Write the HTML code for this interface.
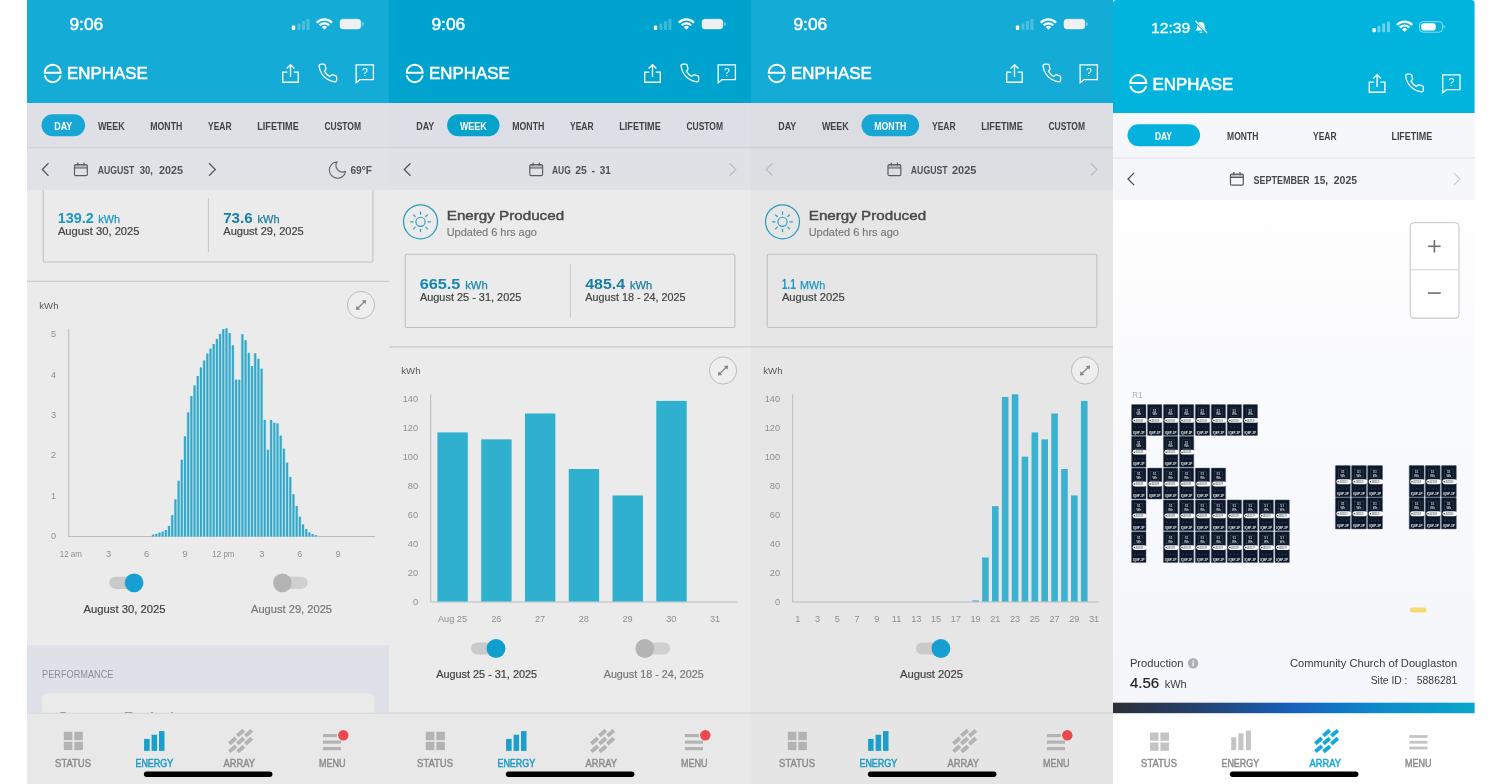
<!DOCTYPE html>
<html><head><meta charset="utf-8"><title>Enphase</title>
<style>html,body{margin:0;padding:0;background:#fff;}svg{display:block;opacity:0.999;}</style></head>
<body>
<svg width="1500" height="784" viewBox="0 0 1500 784" font-family='"Liberation Sans", sans-serif'>
<defs><linearGradient id="gbar" x1="0" x2="1" y1="0" y2="0"><stop offset="0" stop-color="#2c2f36"/><stop offset="0.22" stop-color="#24406b"/><stop offset="0.5" stop-color="#1661bd"/><stop offset="0.75" stop-color="#0d8ccb"/><stop offset="1" stop-color="#08a7c9"/></linearGradient><linearGradient id="p4bg" x1="0" x2="0" y1="0" y2="1"><stop offset="0" stop-color="#fefefe"/><stop offset="0.55" stop-color="#f8f9fc"/><stop offset="1" stop-color="#f5f6fb"/></linearGradient><clipPath id="c1"><rect x="27" y="0" width="362" height="784"/></clipPath><clipPath id="c2"><rect x="389" y="0" width="362" height="784"/></clipPath><clipPath id="c3"><rect x="751" y="0" width="362" height="784"/></clipPath><filter id="blur1"><feGaussianBlur stdDeviation="0.6"/></filter></defs>
<rect x="0.00" y="0.00" width="1500.00" height="784.00" fill="#fff"/>
<g clip-path="url(#c1)">
<rect x="27.00" y="0.00" width="362.00" height="103.00" fill="#14abd6"/>
<rect x="27.00" y="103.00" width="362.00" height="45.00" fill="#dfe0e6"/>
<rect x="27.00" y="148.00" width="362.00" height="42.00" fill="#e1e2e8"/>
<line x1="27.00" y1="147.80" x2="389.00" y2="147.80" stroke="#cdced4" stroke-width="1.0" />
<rect x="27.00" y="190.00" width="362.00" height="523.00" fill="#ebebeb"/>
<text x="69.40" y="30.00" font-size="15.8" fill="#fff" textLength="33.90" lengthAdjust="spacingAndGlyphs" stroke="#fff" stroke-width="0.4">9:06</text>
<rect x="291.90" y="25.40" width="3.30" height="4.70" fill="#fff" rx="0.8"/>
<rect x="297.40" y="23.40" width="3.10" height="6.70" fill="#fff" rx="0.8" opacity="0.24"/>
<rect x="301.90" y="21.00" width="3.10" height="9.10" fill="#fff" rx="0.8" opacity="0.24"/>
<rect x="306.40" y="18.90" width="3.10" height="11.20" fill="#fff" rx="0.8" opacity="0.24"/>
<g transform="translate(324.40,29.80) scale(1.0)" fill="none" stroke="#fff" stroke-linecap="butt"><path d="M-7.61,-7.09 A10.4,10.4 0 0 1 7.61,-7.09" stroke-width="2.3"/><path d="M-4.75,-4.43 A6.5,6.5 0 0 1 4.75,-4.43" stroke-width="2.2"/><path d="M-2.6,-2.7 A3.7,3.7 0 0 1 2.6,-2.7 L0,0 Z" fill="#fff" stroke="none"/></g>
<rect x="340.00" y="19.20" width="20.80" height="9.70" fill="#f0f0f0" rx="3.0" stroke="#fff" stroke-width="0.8" stroke-opacity="0.6"/>
<path d="M362.40,22.0 a2.1,2.1 0 0 1 0,4.0 Z" fill="#fff" opacity="0.55"/>
<path d="M44.70,72.70 A8.0,8.0 0 0 1 60.70,72.70 L43.80,72.70" fill="none" stroke="#fff" stroke-width="2.0" stroke-linecap="butt"/>
<path d="M44.80,75.45 A8.0,8.0 0 0 0 60.60,75.45" fill="none" stroke="#fff" stroke-width="2.0"/>
<text x="67.00" y="79.30" font-size="16.8" fill="#fff" textLength="80.70" lengthAdjust="spacingAndGlyphs" stroke="#fff" stroke-width="0.55">ENPHASE</text>
<g transform="translate(281.70,63.70)" fill="none" stroke="#fff" stroke-width="1.35"><path d="M5.6,8.4 H1 V18.5 H16.6 V8.4 H12"/><path d="M8.8,13.2 V1.2 M4.9,4.8 L8.8,0.9 L12.7,4.8"/></g>
<g transform="translate(317.20,62.40) scale(0.885)" fill="none" stroke="#fff" stroke-width="1.45" stroke-linejoin="round"><path d="M22 16.92v3a2 2 0 0 1-2.18 2 19.79 19.79 0 0 1-8.63-3.07 19.5 19.5 0 0 1-6-6 19.79 19.79 0 0 1-3.07-8.67A2 2 0 0 1 4.11 2h3a2 2 0 0 1 2 1.72 12.84 12.84 0 0 0 .7 2.81 2 2 0 0 1-.45 2.11L8.09 9.91a16 16 0 0 0 6 6l1.27-1.27a2 2 0 0 1 2.11-.45 12.84 12.84 0 0 0 2.81.7A2 2 0 0 1 22 16.92z"/></g>
<g transform="translate(355.40,64.10)"><path d="M0.7,0.7 H18 V15.6 H4.6 L0.8,18.6 Z" fill="none" stroke="#fff" stroke-width="1.3" stroke-linejoin="miter"/>
<text x="9.5" y="12.3" font-size="10.5" fill="#fff" text-anchor="middle">?</text></g>
<rect x="41.50" y="114.20" width="43.60" height="22.10" fill="#17a7d4" rx="11.05"/>
<text x="54.30" y="129.70" font-size="10.6" fill="#fff" font-weight="bold" textLength="18.00" lengthAdjust="spacingAndGlyphs">DAY</text>
<text x="97.90" y="129.70" font-size="10.6" fill="#3f4347" font-weight="bold" textLength="26.80" lengthAdjust="spacingAndGlyphs">WEEK</text>
<text x="150.30" y="129.70" font-size="10.6" fill="#3f4347" font-weight="bold" textLength="32.00" lengthAdjust="spacingAndGlyphs">MONTH</text>
<text x="208.00" y="129.70" font-size="10.6" fill="#3f4347" font-weight="bold" textLength="23.60" lengthAdjust="spacingAndGlyphs">YEAR</text>
<text x="257.30" y="129.70" font-size="10.6" fill="#3f4347" font-weight="bold" textLength="41.40" lengthAdjust="spacingAndGlyphs">LIFETIME</text>
<text x="324.40" y="129.70" font-size="10.6" fill="#3f4347" font-weight="bold" textLength="36.60" lengthAdjust="spacingAndGlyphs">CUSTOM</text>
<path d="M48.50,163.30 L42.30,169.50 L48.50,175.70" fill="none" stroke="#55595e" stroke-width="1.3"/>
<g transform="translate(73.90,162.60)" fill="none" stroke="#5a5e63" stroke-width="1.2"><rect x="0.6" y="2.1" width="12.8" height="11" rx="1.2"/><rect x="0.6" y="2.1" width="12.8" height="3.2" fill="#5a5e63" fill-opacity="0.3" stroke="none"/><path d="M0.6,5.4 H13.4 M3.9,0 V3.2 M10.1,0 V3.2"/></g>
<text x="97.70" y="174.40" font-size="10.9" fill="#4d5156" font-weight="bold" textLength="36.60" lengthAdjust="spacingAndGlyphs">AUGUST</text>
<text x="139.70" y="174.40" font-size="10.9" fill="#4d5156" font-weight="bold" textLength="13.30" lengthAdjust="spacingAndGlyphs">30,</text>
<text x="159.00" y="174.40" font-size="10.9" fill="#4d5156" font-weight="bold" textLength="24.00" lengthAdjust="spacingAndGlyphs">2025</text>
<path d="M209.10,163.30 L215.30,169.50 L209.10,175.70" fill="none" stroke="#55595e" stroke-width="1.3"/>
<path d="M337.10,161.80 A8.2,8.2 0 1 0 345.60,171.30 A6.6,6.6 0 0 1 337.10,161.80 Z" fill="none" stroke="#63676c" stroke-width="1.1" stroke-linejoin="round"/>
<text x="350.40" y="173.70" font-size="10.6" fill="#4d5156" font-weight="bold" textLength="21.60" lengthAdjust="spacingAndGlyphs">69°F</text>
<g>
<rect x="43.20" y="188.70" width="329.70" height="73.30" fill="none" rx="1.8" stroke="#bfc2c5" stroke-width="1.1"/>
<text x="57.70" y="223.20" font-size="14.3" fill="#1c96c3" font-weight="bold" textLength="36.00" lengthAdjust="spacingAndGlyphs">139.2</text>
<text x="98.30" y="223.20" font-size="11.2" fill="#1c96c3" textLength="21.70" lengthAdjust="spacingAndGlyphs" stroke="#1c96c3" stroke-width="0.25">kWh</text>
<text x="57.90" y="235.10" font-size="10.4" fill="#444444" textLength="81.70" lengthAdjust="spacingAndGlyphs" stroke="#444444" stroke-width="0.2">August 30, 2025</text>
<line x1="208.40" y1="198.10" x2="208.40" y2="252.20" stroke="#c4c7ca" stroke-width="1.0" />
<text x="223.20" y="223.20" font-size="14.3" fill="#1a7f9e" font-weight="bold" textLength="29.40" lengthAdjust="spacingAndGlyphs">73.6</text>
<text x="257.60" y="223.20" font-size="11.2" fill="#1a7f9e" textLength="22.00" lengthAdjust="spacingAndGlyphs" stroke="#1a7f9e" stroke-width="0.25">kWh</text>
<text x="223.30" y="235.10" font-size="10.4" fill="#444444" textLength="80.40" lengthAdjust="spacingAndGlyphs" stroke="#444444" stroke-width="0.2">August 29, 2025</text>
<line x1="27.00" y1="281.30" x2="389.00" y2="281.30" stroke="#cbcdd1" stroke-width="1.3" />
<text x="39.30" y="308.80" font-size="9.6" fill="#55595d" textLength="19.20" lengthAdjust="spacingAndGlyphs">kWh</text>
<circle cx="361.00" cy="305.00" r="13.60" fill="#eeeeee" stroke="#bcbcbc" stroke-width="1.0"/>
<line x1="358.00" y1="308.00" x2="364.00" y2="302.00" stroke="#85888d" stroke-width="1.3" />
<path d="M366.10,299.90 l-4.3,0.5 l3.8,3.8 Z M355.90,310.10 l4.3,-0.5 l-3.8,-3.8 Z" fill="#85888d"/>
</g>
<rect x="27.00" y="148.40" width="362.00" height="41.60" fill="#e1e2e8"/>
<path d="M48.50,163.30 L42.30,169.50 L48.50,175.70" fill="none" stroke="#55595e" stroke-width="1.3"/>
<g transform="translate(73.90,162.60)" fill="none" stroke="#5a5e63" stroke-width="1.2"><rect x="0.6" y="2.1" width="12.8" height="11" rx="1.2"/><rect x="0.6" y="2.1" width="12.8" height="3.2" fill="#5a5e63" fill-opacity="0.3" stroke="none"/><path d="M0.6,5.4 H13.4 M3.9,0 V3.2 M10.1,0 V3.2"/></g>
<text x="97.70" y="174.40" font-size="10.9" fill="#4d5156" font-weight="bold" textLength="36.60" lengthAdjust="spacingAndGlyphs">AUGUST</text>
<text x="139.70" y="174.40" font-size="10.9" fill="#4d5156" font-weight="bold" textLength="13.30" lengthAdjust="spacingAndGlyphs">30,</text>
<text x="159.00" y="174.40" font-size="10.9" fill="#4d5156" font-weight="bold" textLength="24.00" lengthAdjust="spacingAndGlyphs">2025</text>
<path d="M209.10,163.30 L215.30,169.50 L209.10,175.70" fill="none" stroke="#55595e" stroke-width="1.3"/>
<path d="M337.10,161.80 A8.2,8.2 0 1 0 345.60,171.30 A6.6,6.6 0 0 1 337.10,161.80 Z" fill="none" stroke="#63676c" stroke-width="1.1" stroke-linejoin="round"/>
<text x="350.40" y="173.70" font-size="10.6" fill="#4d5156" font-weight="bold" textLength="21.60" lengthAdjust="spacingAndGlyphs">69°F</text>
<line x1="68.70" y1="328.80" x2="68.70" y2="536.50" stroke="#b9bcc0" stroke-width="1.0" />
<line x1="68.20" y1="536.50" x2="375.20" y2="536.50" stroke="#b9bcc0" stroke-width="1.0" />
<text x="56.00" y="539.30" font-size="9.2" fill="#8b9095" text-anchor="end">0</text>
<text x="56.00" y="498.85" font-size="9.2" fill="#8b9095" text-anchor="end">1</text>
<text x="56.00" y="458.40" font-size="9.2" fill="#8b9095" text-anchor="end">2</text>
<text x="56.00" y="417.95" font-size="9.2" fill="#8b9095" text-anchor="end">3</text>
<text x="56.00" y="377.50" font-size="9.2" fill="#8b9095" text-anchor="end">4</text>
<text x="56.00" y="337.05" font-size="9.2" fill="#8b9095" text-anchor="end">5</text>
<rect x="151.50" y="534.90" width="3.19" height="1.60" fill="#a3dde9"/>
<rect x="154.69" y="534.10" width="3.19" height="2.40" fill="#a3dde9"/>
<rect x="157.88" y="532.90" width="3.19" height="3.60" fill="#a3dde9"/>
<rect x="161.07" y="531.80" width="3.19" height="4.70" fill="#a3dde9"/>
<rect x="164.26" y="530.30" width="3.19" height="6.20" fill="#a3dde9"/>
<rect x="167.45" y="526.30" width="3.19" height="10.20" fill="#a3dde9"/>
<rect x="170.65" y="515.40" width="3.19" height="21.10" fill="#a3dde9"/>
<rect x="173.84" y="499.60" width="3.19" height="36.90" fill="#a3dde9"/>
<rect x="177.03" y="481.00" width="3.19" height="55.50" fill="#a3dde9"/>
<rect x="180.22" y="460.00" width="3.19" height="76.50" fill="#a3dde9"/>
<rect x="183.41" y="436.50" width="3.19" height="100.00" fill="#a3dde9"/>
<rect x="186.59" y="412.70" width="3.19" height="123.80" fill="#a3dde9"/>
<rect x="189.78" y="396.30" width="3.19" height="140.20" fill="#a3dde9"/>
<rect x="192.97" y="385.70" width="3.19" height="150.80" fill="#a3dde9"/>
<rect x="196.16" y="376.30" width="3.19" height="160.20" fill="#a3dde9"/>
<rect x="199.35" y="367.70" width="3.19" height="168.80" fill="#a3dde9"/>
<rect x="202.54" y="360.80" width="3.19" height="175.70" fill="#a3dde9"/>
<rect x="205.73" y="353.80" width="3.19" height="182.70" fill="#a3dde9"/>
<rect x="208.92" y="348.90" width="3.19" height="187.60" fill="#a3dde9"/>
<rect x="212.11" y="344.30" width="3.19" height="192.20" fill="#a3dde9"/>
<rect x="215.30" y="339.20" width="3.19" height="197.30" fill="#a3dde9"/>
<rect x="218.49" y="334.20" width="3.19" height="202.30" fill="#a3dde9"/>
<rect x="221.68" y="329.40" width="3.19" height="207.10" fill="#a3dde9"/>
<rect x="224.88" y="328.60" width="3.19" height="207.90" fill="#a3dde9"/>
<rect x="228.06" y="333.30" width="3.19" height="203.20" fill="#a3dde9"/>
<rect x="231.25" y="345.50" width="3.19" height="191.00" fill="#a3dde9"/>
<rect x="234.44" y="380.00" width="3.19" height="156.50" fill="#a3dde9"/>
<rect x="237.63" y="380.00" width="3.19" height="156.50" fill="#a3dde9"/>
<rect x="240.82" y="334.50" width="3.19" height="202.00" fill="#a3dde9"/>
<rect x="244.02" y="340.40" width="3.19" height="196.10" fill="#a3dde9"/>
<rect x="247.21" y="353.10" width="3.19" height="183.40" fill="#a3dde9"/>
<rect x="250.40" y="366.30" width="3.19" height="170.20" fill="#a3dde9"/>
<rect x="253.59" y="353.60" width="3.19" height="182.90" fill="#a3dde9"/>
<rect x="256.77" y="359.00" width="3.19" height="177.50" fill="#a3dde9"/>
<rect x="259.96" y="368.90" width="3.19" height="167.60" fill="#a3dde9"/>
<rect x="263.15" y="420.20" width="3.19" height="116.30" fill="#a3dde9"/>
<rect x="266.34" y="450.00" width="3.19" height="86.50" fill="#a3dde9"/>
<rect x="269.53" y="420.20" width="3.19" height="116.30" fill="#a3dde9"/>
<rect x="272.72" y="423.00" width="3.19" height="113.50" fill="#a3dde9"/>
<rect x="275.91" y="423.60" width="3.19" height="112.90" fill="#a3dde9"/>
<rect x="279.10" y="435.90" width="3.19" height="100.60" fill="#a3dde9"/>
<rect x="282.29" y="448.90" width="3.19" height="87.60" fill="#a3dde9"/>
<rect x="285.48" y="462.90" width="3.19" height="73.60" fill="#a3dde9"/>
<rect x="288.67" y="477.30" width="3.19" height="59.20" fill="#a3dde9"/>
<rect x="291.86" y="494.50" width="3.19" height="42.00" fill="#a3dde9"/>
<rect x="295.05" y="506.20" width="3.19" height="30.30" fill="#a3dde9"/>
<rect x="298.25" y="516.90" width="3.19" height="19.60" fill="#a3dde9"/>
<rect x="301.43" y="524.60" width="3.19" height="11.90" fill="#a3dde9"/>
<rect x="304.62" y="529.20" width="3.19" height="7.30" fill="#a3dde9"/>
<rect x="307.81" y="532.60" width="3.19" height="3.90" fill="#a3dde9"/>
<rect x="311.00" y="534.40" width="3.19" height="2.10" fill="#a3dde9"/>
<rect x="314.19" y="535.50" width="3.19" height="1.00" fill="#a3dde9"/>
<rect x="152.15" y="534.60" width="1.90" height="1.90" fill="#38a5c6"/>
<rect x="155.34" y="533.80" width="1.90" height="2.70" fill="#38a5c6"/>
<rect x="158.53" y="532.60" width="1.90" height="3.90" fill="#38a5c6"/>
<rect x="161.72" y="531.50" width="1.90" height="5.00" fill="#38a5c6"/>
<rect x="164.91" y="530.00" width="1.90" height="6.50" fill="#38a5c6"/>
<rect x="168.10" y="526.00" width="1.90" height="10.50" fill="#38a5c6"/>
<rect x="171.29" y="515.10" width="1.90" height="21.40" fill="#38a5c6"/>
<rect x="174.48" y="499.30" width="1.90" height="37.20" fill="#38a5c6"/>
<rect x="177.67" y="480.70" width="1.90" height="55.80" fill="#38a5c6"/>
<rect x="180.86" y="459.70" width="1.90" height="76.80" fill="#38a5c6"/>
<rect x="184.05" y="436.20" width="1.90" height="100.30" fill="#38a5c6"/>
<rect x="187.24" y="412.40" width="1.90" height="124.10" fill="#38a5c6"/>
<rect x="190.43" y="396.00" width="1.90" height="140.50" fill="#38a5c6"/>
<rect x="193.62" y="385.40" width="1.90" height="151.10" fill="#38a5c6"/>
<rect x="196.81" y="376.00" width="1.90" height="160.50" fill="#38a5c6"/>
<rect x="200.00" y="367.40" width="1.90" height="169.10" fill="#38a5c6"/>
<rect x="203.19" y="360.50" width="1.90" height="176.00" fill="#38a5c6"/>
<rect x="206.38" y="353.50" width="1.90" height="183.00" fill="#38a5c6"/>
<rect x="209.57" y="348.60" width="1.90" height="187.90" fill="#38a5c6"/>
<rect x="212.76" y="344.00" width="1.90" height="192.50" fill="#38a5c6"/>
<rect x="215.95" y="338.90" width="1.90" height="197.60" fill="#38a5c6"/>
<rect x="219.14" y="333.90" width="1.90" height="202.60" fill="#38a5c6"/>
<rect x="222.33" y="329.10" width="1.90" height="207.40" fill="#38a5c6"/>
<rect x="225.52" y="328.30" width="1.90" height="208.20" fill="#38a5c6"/>
<rect x="228.71" y="333.00" width="1.90" height="203.50" fill="#38a5c6"/>
<rect x="231.90" y="345.20" width="1.90" height="191.30" fill="#38a5c6"/>
<rect x="235.09" y="379.70" width="1.90" height="156.80" fill="#38a5c6"/>
<rect x="238.28" y="379.70" width="1.90" height="156.80" fill="#38a5c6"/>
<rect x="241.47" y="334.20" width="1.90" height="202.30" fill="#38a5c6"/>
<rect x="244.66" y="340.10" width="1.90" height="196.40" fill="#38a5c6"/>
<rect x="247.85" y="352.80" width="1.90" height="183.70" fill="#38a5c6"/>
<rect x="251.04" y="366.00" width="1.90" height="170.50" fill="#38a5c6"/>
<rect x="254.23" y="353.30" width="1.90" height="183.20" fill="#38a5c6"/>
<rect x="257.42" y="358.70" width="1.90" height="177.80" fill="#38a5c6"/>
<rect x="260.61" y="368.60" width="1.90" height="167.90" fill="#38a5c6"/>
<rect x="263.80" y="419.90" width="1.90" height="116.60" fill="#38a5c6"/>
<rect x="266.99" y="449.70" width="1.90" height="86.80" fill="#38a5c6"/>
<rect x="270.18" y="419.90" width="1.90" height="116.60" fill="#38a5c6"/>
<rect x="273.37" y="422.70" width="1.90" height="113.80" fill="#38a5c6"/>
<rect x="276.56" y="423.30" width="1.90" height="113.20" fill="#38a5c6"/>
<rect x="279.75" y="435.60" width="1.90" height="100.90" fill="#38a5c6"/>
<rect x="282.94" y="448.60" width="1.90" height="87.90" fill="#38a5c6"/>
<rect x="286.13" y="462.60" width="1.90" height="73.90" fill="#38a5c6"/>
<rect x="289.32" y="477.00" width="1.90" height="59.50" fill="#38a5c6"/>
<rect x="292.51" y="494.20" width="1.90" height="42.30" fill="#38a5c6"/>
<rect x="295.70" y="505.90" width="1.90" height="30.60" fill="#38a5c6"/>
<rect x="298.89" y="516.60" width="1.90" height="19.90" fill="#38a5c6"/>
<rect x="302.08" y="524.30" width="1.90" height="12.20" fill="#38a5c6"/>
<rect x="305.27" y="528.90" width="1.90" height="7.60" fill="#38a5c6"/>
<rect x="308.46" y="532.30" width="1.90" height="4.20" fill="#38a5c6"/>
<rect x="311.65" y="534.10" width="1.90" height="2.40" fill="#38a5c6"/>
<rect x="314.84" y="535.20" width="1.90" height="1.30" fill="#38a5c6"/>
<text x="70.80" y="556.50" font-size="9.2" fill="#8b9095" text-anchor="middle" textLength="22.20" lengthAdjust="spacingAndGlyphs">12 am</text>
<text x="108.50" y="556.50" font-size="9.2" fill="#8b9095" text-anchor="middle">3</text>
<text x="146.60" y="556.50" font-size="9.2" fill="#8b9095" text-anchor="middle">6</text>
<text x="185.00" y="556.50" font-size="9.2" fill="#8b9095" text-anchor="middle">9</text>
<text x="223.40" y="556.50" font-size="9.2" fill="#8b9095" text-anchor="middle" textLength="22.20" lengthAdjust="spacingAndGlyphs">12 pm</text>
<text x="261.70" y="556.50" font-size="9.2" fill="#8b9095" text-anchor="middle">3</text>
<text x="299.80" y="556.50" font-size="9.2" fill="#8b9095" text-anchor="middle">6</text>
<text x="338.00" y="556.50" font-size="9.2" fill="#8b9095" text-anchor="middle">9</text>
<rect x="109.20" y="576.70" width="33.50" height="12.20" fill="#c9c9c9" rx="6.1"/>
<circle cx="134.10" cy="582.80" r="9.40" fill="#189fd2"/>
<rect x="273.70" y="576.70" width="34.00" height="12.20" fill="#d0d0d0" rx="6.1"/>
<circle cx="282.40" cy="582.80" r="9.40" fill="#b4b4b4"/>
<text x="83.60" y="612.80" font-size="11.4" fill="#424242" textLength="81.90" lengthAdjust="spacingAndGlyphs" stroke="#424242" stroke-width="0.2">August 30, 2025</text>
<text x="251.00" y="612.80" font-size="11.4" fill="#777777" textLength="81.00" lengthAdjust="spacingAndGlyphs" stroke="#777777" stroke-width="0.2">August 29, 2025</text>
<rect x="27.00" y="645.20" width="362.00" height="68.00" fill="#dfe1e9"/>
<text x="42.10" y="678.00" font-size="10.8" fill="#8a8f97" textLength="71.30" lengthAdjust="spacingAndGlyphs">PERFORMANCE</text>
<rect x="42.10" y="693.60" width="332.00" height="30.00" fill="#ebebeb" rx="6"/>
<rect x="60.30" y="712.20" width="5.40" height="1.00" fill="#6a6a6a"/>
<rect x="125.00" y="712.20" width="7.30" height="1.00" fill="#6a6a6a"/>
<rect x="151.00" y="712.20" width="2.00" height="1.00" fill="#6a6a6a"/>
<rect x="171.00" y="712.20" width="1.60" height="1.00" fill="#6a6a6a"/>
<rect x="27.00" y="713.00" width="362.00" height="71.00" fill="#e8e8e8"/>
<line x1="27.00" y1="713.20" x2="389.00" y2="713.20" stroke="#d4d6db" stroke-width="1.0" />
<rect x="63.80" y="731.80" width="8.60" height="8.30" fill="#b3b3b3"/>
<rect x="63.80" y="741.80" width="8.60" height="8.30" fill="#b3b3b3"/>
<rect x="74.30" y="731.80" width="8.60" height="8.30" fill="#b3b3b3"/>
<rect x="74.30" y="741.80" width="8.60" height="8.30" fill="#b3b3b3"/>
<text x="55.10" y="766.90" font-size="11.0" fill="#8e8e8e" textLength="35.90" lengthAdjust="spacingAndGlyphs" stroke="#8e8e8e" stroke-width="0.5">STATUS</text>
<rect x="144.10" y="738.90" width="5.50" height="12.00" fill="#1b9ec9"/>
<rect x="151.60" y="734.70" width="5.50" height="16.20" fill="#1b9ec9"/>
<rect x="159.00" y="731.10" width="5.50" height="19.80" fill="#1b9ec9"/>
<text x="135.40" y="766.90" font-size="11.0" fill="#1f9bc4" textLength="37.90" lengthAdjust="spacingAndGlyphs" stroke="#1f9bc4" stroke-width="0.5">ENERGY</text>
<rect x="-4.3" y="-1.95" width="8.6" height="3.9" fill="#b3b3b3" transform="translate(240.60,733.00) rotate(-41)"/>
<rect x="-4.3" y="-1.95" width="8.6" height="3.9" fill="#b3b3b3" transform="translate(248.60,733.20) rotate(-41)"/>
<rect x="-4.3" y="-1.95" width="8.6" height="3.9" fill="#b3b3b3" transform="translate(232.60,740.90) rotate(-41)"/>
<rect x="-4.3" y="-1.95" width="8.6" height="3.9" fill="#b3b3b3" transform="translate(240.60,741.00) rotate(-41)"/>
<rect x="-4.3" y="-1.95" width="8.6" height="3.9" fill="#b3b3b3" transform="translate(248.60,741.10) rotate(-41)"/>
<rect x="-4.3" y="-1.95" width="8.6" height="3.9" fill="#b3b3b3" transform="translate(232.70,748.80) rotate(-41)"/>
<rect x="-4.3" y="-1.95" width="8.6" height="3.9" fill="#b3b3b3" transform="translate(240.80,749.00) rotate(-41)"/>
<text x="223.50" y="766.90" font-size="11.0" fill="#8e8e8e" textLength="31.40" lengthAdjust="spacingAndGlyphs" stroke="#8e8e8e" stroke-width="0.5">ARRAY</text>
<rect x="322.90" y="734.00" width="13.90" height="3.20" fill="#b3b3b3"/>
<rect x="322.90" y="740.50" width="18.10" height="3.20" fill="#b3b3b3"/>
<rect x="322.90" y="747.00" width="18.10" height="3.20" fill="#b3b3b3"/>
<circle cx="343.30" cy="735.30" r="5.20" fill="#ea4a4e"/>
<text x="319.00" y="766.90" font-size="11.0" fill="#8e8e8e" textLength="26.60" lengthAdjust="spacingAndGlyphs" stroke="#8e8e8e" stroke-width="0.5">MENU</text>
<rect x="143.90" y="771.60" width="128.50" height="5.30" fill="#000" rx="2.65"/>
</g>
<!--P2-->
<g clip-path="url(#c2)">
<rect x="389.00" y="0.00" width="362.00" height="103.00" fill="#00a3cd"/>
<rect x="389.00" y="103.00" width="362.00" height="45.00" fill="#dedfe6"/>
<rect x="389.00" y="148.00" width="362.00" height="42.00" fill="#e0e1e7"/>
<line x1="389.00" y1="147.80" x2="751.00" y2="147.80" stroke="#cbccd2" stroke-width="1.0" />
<rect x="389.00" y="190.00" width="362.00" height="523.00" fill="#ebebeb"/>
<text x="431.40" y="30.00" font-size="15.8" fill="#fff" textLength="33.90" lengthAdjust="spacingAndGlyphs" stroke="#fff" stroke-width="0.4">9:06</text>
<rect x="653.90" y="25.40" width="3.30" height="4.70" fill="#fff" rx="0.8"/>
<rect x="659.40" y="23.40" width="3.10" height="6.70" fill="#fff" rx="0.8" opacity="0.24"/>
<rect x="663.90" y="21.00" width="3.10" height="9.10" fill="#fff" rx="0.8" opacity="0.24"/>
<rect x="668.40" y="18.90" width="3.10" height="11.20" fill="#fff" rx="0.8" opacity="0.24"/>
<g transform="translate(686.40,29.80) scale(1.0)" fill="none" stroke="#fff" stroke-linecap="butt"><path d="M-7.61,-7.09 A10.4,10.4 0 0 1 7.61,-7.09" stroke-width="2.3"/><path d="M-4.75,-4.43 A6.5,6.5 0 0 1 4.75,-4.43" stroke-width="2.2"/><path d="M-2.6,-2.7 A3.7,3.7 0 0 1 2.6,-2.7 L0,0 Z" fill="#fff" stroke="none"/></g>
<rect x="702.00" y="19.20" width="20.80" height="9.70" fill="#f0f0f0" rx="3.0" stroke="#fff" stroke-width="0.8" stroke-opacity="0.6"/>
<path d="M724.40,22.0 a2.1,2.1 0 0 1 0,4.0 Z" fill="#fff" opacity="0.55"/>
<path d="M406.70,72.70 A8.0,8.0 0 0 1 422.70,72.70 L405.80,72.70" fill="none" stroke="#fff" stroke-width="2.0" stroke-linecap="butt"/>
<path d="M406.80,75.45 A8.0,8.0 0 0 0 422.60,75.45" fill="none" stroke="#fff" stroke-width="2.0"/>
<text x="429.00" y="79.30" font-size="16.8" fill="#fff" textLength="80.70" lengthAdjust="spacingAndGlyphs" stroke="#fff" stroke-width="0.55">ENPHASE</text>
<g transform="translate(643.70,63.70)" fill="none" stroke="#fff" stroke-width="1.35"><path d="M5.6,8.4 H1 V18.5 H16.6 V8.4 H12"/><path d="M8.8,13.2 V1.2 M4.9,4.8 L8.8,0.9 L12.7,4.8"/></g>
<g transform="translate(679.20,62.40) scale(0.885)" fill="none" stroke="#fff" stroke-width="1.45" stroke-linejoin="round"><path d="M22 16.92v3a2 2 0 0 1-2.18 2 19.79 19.79 0 0 1-8.63-3.07 19.5 19.5 0 0 1-6-6 19.79 19.79 0 0 1-3.07-8.67A2 2 0 0 1 4.11 2h3a2 2 0 0 1 2 1.72 12.84 12.84 0 0 0 .7 2.81 2 2 0 0 1-.45 2.11L8.09 9.91a16 16 0 0 0 6 6l1.27-1.27a2 2 0 0 1 2.11-.45 12.84 12.84 0 0 0 2.81.7A2 2 0 0 1 22 16.92z"/></g>
<g transform="translate(717.40,64.10)"><path d="M0.7,0.7 H18 V15.6 H4.6 L0.8,18.6 Z" fill="none" stroke="#fff" stroke-width="1.3" stroke-linejoin="miter"/>
<text x="9.5" y="12.3" font-size="10.5" fill="#fff" text-anchor="middle">?</text></g>
<text x="416.30" y="129.70" font-size="10.6" fill="#3f4347" font-weight="bold" textLength="18.00" lengthAdjust="spacingAndGlyphs">DAY</text>
<rect x="447.10" y="114.20" width="52.40" height="22.10" fill="#05a2cc" rx="11.05"/>
<text x="459.90" y="129.70" font-size="10.6" fill="#fff" font-weight="bold" textLength="26.80" lengthAdjust="spacingAndGlyphs">WEEK</text>
<text x="512.30" y="129.70" font-size="10.6" fill="#3f4347" font-weight="bold" textLength="32.00" lengthAdjust="spacingAndGlyphs">MONTH</text>
<text x="570.00" y="129.70" font-size="10.6" fill="#3f4347" font-weight="bold" textLength="23.60" lengthAdjust="spacingAndGlyphs">YEAR</text>
<text x="619.30" y="129.70" font-size="10.6" fill="#3f4347" font-weight="bold" textLength="41.40" lengthAdjust="spacingAndGlyphs">LIFETIME</text>
<text x="686.40" y="129.70" font-size="10.6" fill="#3f4347" font-weight="bold" textLength="36.60" lengthAdjust="spacingAndGlyphs">CUSTOM</text>
<path d="M410.50,163.30 L404.30,169.50 L410.50,175.70" fill="none" stroke="#55595e" stroke-width="1.3"/>
<g transform="translate(529.20,162.60)" fill="none" stroke="#5a5e63" stroke-width="1.2"><rect x="0.6" y="2.1" width="12.8" height="11" rx="1.2"/><rect x="0.6" y="2.1" width="12.8" height="3.2" fill="#5a5e63" fill-opacity="0.3" stroke="none"/><path d="M0.6,5.4 H13.4 M3.9,0 V3.2 M10.1,0 V3.2"/></g>
<text x="552.00" y="174.40" font-size="10.9" fill="#4d5156" font-weight="bold" textLength="18.80" lengthAdjust="spacingAndGlyphs">AUG</text>
<text x="575.20" y="174.40" font-size="10.9" fill="#4d5156" font-weight="bold" textLength="11.60" lengthAdjust="spacingAndGlyphs">25</text>
<text x="591.60" y="174.40" font-size="10.9" fill="#4d5156" font-weight="bold" textLength="3.60" lengthAdjust="spacingAndGlyphs">-</text>
<text x="599.80" y="174.40" font-size="10.9" fill="#4d5156" font-weight="bold" textLength="11.00" lengthAdjust="spacingAndGlyphs">31</text>
<path d="M729.60,163.30 L735.80,169.50 L729.60,175.70" fill="none" stroke="#bdbfc4" stroke-width="1.3"/>
<circle cx="420.50" cy="221.80" r="17.00" fill="none" stroke="#2b9dbe" stroke-width="1.25"/>
<circle cx="420.50" cy="221.80" r="4.60" fill="none" stroke="#2b9dbe" stroke-width="1.15"/>
<line x1="428.00" y1="221.80" x2="430.40" y2="221.80" stroke="#2b9dbe" stroke-width="1.2" stroke-linecap="round"/>
<line x1="425.80" y1="227.10" x2="427.50" y2="228.80" stroke="#2b9dbe" stroke-width="1.2" stroke-linecap="round"/>
<line x1="420.50" y1="229.30" x2="420.50" y2="231.70" stroke="#2b9dbe" stroke-width="1.2" stroke-linecap="round"/>
<line x1="415.20" y1="227.10" x2="413.50" y2="228.80" stroke="#2b9dbe" stroke-width="1.2" stroke-linecap="round"/>
<line x1="413.00" y1="221.80" x2="410.60" y2="221.80" stroke="#2b9dbe" stroke-width="1.2" stroke-linecap="round"/>
<line x1="415.20" y1="216.50" x2="413.50" y2="214.80" stroke="#2b9dbe" stroke-width="1.2" stroke-linecap="round"/>
<line x1="420.50" y1="214.30" x2="420.50" y2="211.90" stroke="#2b9dbe" stroke-width="1.2" stroke-linecap="round"/>
<line x1="425.80" y1="216.50" x2="427.50" y2="214.80" stroke="#2b9dbe" stroke-width="1.2" stroke-linecap="round"/>
<text x="446.80" y="219.90" font-size="13.5" fill="#4b4b4b" textLength="117.30" lengthAdjust="spacingAndGlyphs" stroke="#4b4b4b" stroke-width="0.45">Energy Produced</text>
<text x="446.70" y="236.00" font-size="11.0" fill="#787878" textLength="90.20" lengthAdjust="spacingAndGlyphs" stroke="#787878" stroke-width="0.15">Updated 6 hrs ago</text>
<rect x="405.20" y="254.20" width="329.70" height="73.30" fill="none" rx="1.8" stroke="#bfc2c5" stroke-width="1.1"/>
<text x="419.70" y="288.70" font-size="14.3" fill="#1787b0" font-weight="bold" textLength="40.70" lengthAdjust="spacingAndGlyphs">665.5</text>
<text x="465.20" y="288.70" font-size="11.2" fill="#1787b0" textLength="22.50" lengthAdjust="spacingAndGlyphs" stroke="#1787b0" stroke-width="0.25">kWh</text>
<text x="419.90" y="300.60" font-size="10.4" fill="#444444" textLength="101.50" lengthAdjust="spacingAndGlyphs" stroke="#444444" stroke-width="0.2">August 25 - 31, 2025</text>
<line x1="570.40" y1="263.60" x2="570.40" y2="317.70" stroke="#c4c7ca" stroke-width="1.0" />
<text x="585.20" y="288.70" font-size="14.3" fill="#1a7f9e" font-weight="bold" textLength="39.90" lengthAdjust="spacingAndGlyphs">485.4</text>
<text x="629.90" y="288.70" font-size="11.2" fill="#1a7f9e" textLength="22.20" lengthAdjust="spacingAndGlyphs" stroke="#1a7f9e" stroke-width="0.25">kWh</text>
<text x="585.30" y="300.60" font-size="10.4" fill="#444444" textLength="100.20" lengthAdjust="spacingAndGlyphs" stroke="#444444" stroke-width="0.2">August 18 - 24, 2025</text>
<line x1="389.00" y1="346.80" x2="751.00" y2="346.80" stroke="#cbcdd1" stroke-width="1.3" />
<text x="401.30" y="374.30" font-size="9.6" fill="#55595d" textLength="19.20" lengthAdjust="spacingAndGlyphs">kWh</text>
<circle cx="723.00" cy="370.50" r="13.60" fill="#eeeeee" stroke="#bcbcbc" stroke-width="1.0"/>
<line x1="720.00" y1="373.50" x2="726.00" y2="367.50" stroke="#85888d" stroke-width="1.3" />
<path d="M728.10,365.40 l-4.3,0.5 l3.8,3.8 Z M717.90,375.60 l4.3,-0.5 l-3.8,-3.8 Z" fill="#85888d"/>
<line x1="430.70" y1="394.30" x2="430.70" y2="602.00" stroke="#b9bcc0" stroke-width="1.0" />
<line x1="430.20" y1="602.00" x2="737.20" y2="602.00" stroke="#b9bcc0" stroke-width="1.0" />
<text x="418.00" y="604.80" font-size="9.2" fill="#8b9095" text-anchor="end">0</text>
<text x="418.00" y="575.89" font-size="9.2" fill="#8b9095" text-anchor="end">20</text>
<text x="418.00" y="546.97" font-size="9.2" fill="#8b9095" text-anchor="end">40</text>
<text x="418.00" y="518.06" font-size="9.2" fill="#8b9095" text-anchor="end">60</text>
<text x="418.00" y="489.14" font-size="9.2" fill="#8b9095" text-anchor="end">80</text>
<text x="418.00" y="460.23" font-size="9.2" fill="#8b9095" text-anchor="end">100</text>
<text x="418.00" y="431.32" font-size="9.2" fill="#8b9095" text-anchor="end">120</text>
<text x="418.00" y="402.40" font-size="9.2" fill="#8b9095" text-anchor="end">140</text>
<rect x="437.40" y="432.42" width="30.40" height="169.08" fill="#2fb0ce"/>
<rect x="481.18" y="439.36" width="30.40" height="162.14" fill="#2fb0ce"/>
<rect x="524.96" y="413.48" width="30.40" height="188.02" fill="#2fb0ce"/>
<rect x="568.74" y="469.00" width="30.40" height="132.50" fill="#2fb0ce"/>
<rect x="612.52" y="495.45" width="30.40" height="106.05" fill="#2fb0ce"/>
<rect x="656.30" y="400.90" width="30.40" height="200.60" fill="#2fb0ce"/>
<text x="452.50" y="621.70" font-size="9.2" fill="#8b9095" text-anchor="middle">Aug 25</text>
<text x="496.26" y="621.70" font-size="9.2" fill="#8b9095" text-anchor="middle">26</text>
<text x="540.02" y="621.70" font-size="9.2" fill="#8b9095" text-anchor="middle">27</text>
<text x="583.78" y="621.70" font-size="9.2" fill="#8b9095" text-anchor="middle">28</text>
<text x="627.54" y="621.70" font-size="9.2" fill="#8b9095" text-anchor="middle">29</text>
<text x="671.30" y="621.70" font-size="9.2" fill="#8b9095" text-anchor="middle">30</text>
<text x="715.06" y="621.70" font-size="9.2" fill="#8b9095" text-anchor="middle">31</text>
<rect x="471.10" y="642.40" width="33.50" height="12.20" fill="#c9c9c9" rx="6.1"/>
<circle cx="496.00" cy="648.50" r="9.40" fill="#0f9fcf"/>
<rect x="636.10" y="642.40" width="34.00" height="12.20" fill="#d0d0d0" rx="6.1"/>
<circle cx="644.80" cy="648.50" r="9.40" fill="#b4b4b4"/>
<text x="436.20" y="678.30" font-size="11.4" fill="#424242" textLength="100.90" lengthAdjust="spacingAndGlyphs" stroke="#424242" stroke-width="0.2">August 25 - 31, 2025</text>
<text x="603.70" y="678.30" font-size="11.4" fill="#777777" textLength="100.10" lengthAdjust="spacingAndGlyphs" stroke="#777777" stroke-width="0.2">August 18 - 24, 2025</text>
<rect x="389.00" y="713.00" width="362.00" height="71.00" fill="#e8e8e8"/>
<line x1="389.00" y1="713.00" x2="751.00" y2="713.00" stroke="#d6d8de" stroke-width="1.6" />
<rect x="425.80" y="731.80" width="8.60" height="8.30" fill="#b3b3b3"/>
<rect x="425.80" y="741.80" width="8.60" height="8.30" fill="#b3b3b3"/>
<rect x="436.30" y="731.80" width="8.60" height="8.30" fill="#b3b3b3"/>
<rect x="436.30" y="741.80" width="8.60" height="8.30" fill="#b3b3b3"/>
<text x="417.10" y="766.90" font-size="11.0" fill="#8e8e8e" textLength="35.90" lengthAdjust="spacingAndGlyphs" stroke="#8e8e8e" stroke-width="0.5">STATUS</text>
<rect x="506.10" y="738.90" width="5.50" height="12.00" fill="#1b9ec9"/>
<rect x="513.60" y="734.70" width="5.50" height="16.20" fill="#1b9ec9"/>
<rect x="521.00" y="731.10" width="5.50" height="19.80" fill="#1b9ec9"/>
<text x="497.40" y="766.90" font-size="11.0" fill="#1f9bc4" textLength="37.90" lengthAdjust="spacingAndGlyphs" stroke="#1f9bc4" stroke-width="0.5">ENERGY</text>
<rect x="-4.3" y="-1.95" width="8.6" height="3.9" fill="#b3b3b3" transform="translate(602.60,733.00) rotate(-41)"/>
<rect x="-4.3" y="-1.95" width="8.6" height="3.9" fill="#b3b3b3" transform="translate(610.60,733.20) rotate(-41)"/>
<rect x="-4.3" y="-1.95" width="8.6" height="3.9" fill="#b3b3b3" transform="translate(594.60,740.90) rotate(-41)"/>
<rect x="-4.3" y="-1.95" width="8.6" height="3.9" fill="#b3b3b3" transform="translate(602.60,741.00) rotate(-41)"/>
<rect x="-4.3" y="-1.95" width="8.6" height="3.9" fill="#b3b3b3" transform="translate(610.60,741.10) rotate(-41)"/>
<rect x="-4.3" y="-1.95" width="8.6" height="3.9" fill="#b3b3b3" transform="translate(594.70,748.80) rotate(-41)"/>
<rect x="-4.3" y="-1.95" width="8.6" height="3.9" fill="#b3b3b3" transform="translate(602.80,749.00) rotate(-41)"/>
<text x="585.50" y="766.90" font-size="11.0" fill="#8e8e8e" textLength="31.40" lengthAdjust="spacingAndGlyphs" stroke="#8e8e8e" stroke-width="0.5">ARRAY</text>
<rect x="684.90" y="734.00" width="13.90" height="3.20" fill="#b3b3b3"/>
<rect x="684.90" y="740.50" width="18.10" height="3.20" fill="#b3b3b3"/>
<rect x="684.90" y="747.00" width="18.10" height="3.20" fill="#b3b3b3"/>
<circle cx="705.30" cy="735.30" r="5.20" fill="#ea4a4e"/>
<text x="681.00" y="766.90" font-size="11.0" fill="#8e8e8e" textLength="26.60" lengthAdjust="spacingAndGlyphs" stroke="#8e8e8e" stroke-width="0.5">MENU</text>
<rect x="505.90" y="771.60" width="128.50" height="5.30" fill="#000" rx="2.65"/>
</g>
<g clip-path="url(#c3)">
<rect x="751.00" y="0.00" width="362.00" height="103.00" fill="#14abd6"/>
<rect x="751.00" y="103.00" width="362.00" height="45.00" fill="#dcdde2"/>
<rect x="751.00" y="148.00" width="362.00" height="42.00" fill="#dddee3"/>
<line x1="751.00" y1="147.80" x2="1113.00" y2="147.80" stroke="#c9cacf" stroke-width="1.0" />
<rect x="751.00" y="190.00" width="362.00" height="523.00" fill="#e6e6e6"/>
<text x="793.40" y="30.00" font-size="15.8" fill="#fff" textLength="33.90" lengthAdjust="spacingAndGlyphs" stroke="#fff" stroke-width="0.4">9:06</text>
<rect x="1015.90" y="25.40" width="3.30" height="4.70" fill="#fff" rx="0.8"/>
<rect x="1021.40" y="23.40" width="3.10" height="6.70" fill="#fff" rx="0.8" opacity="0.24"/>
<rect x="1025.90" y="21.00" width="3.10" height="9.10" fill="#fff" rx="0.8" opacity="0.24"/>
<rect x="1030.40" y="18.90" width="3.10" height="11.20" fill="#fff" rx="0.8" opacity="0.24"/>
<g transform="translate(1048.40,29.80) scale(1.0)" fill="none" stroke="#fff" stroke-linecap="butt"><path d="M-7.61,-7.09 A10.4,10.4 0 0 1 7.61,-7.09" stroke-width="2.3"/><path d="M-4.75,-4.43 A6.5,6.5 0 0 1 4.75,-4.43" stroke-width="2.2"/><path d="M-2.6,-2.7 A3.7,3.7 0 0 1 2.6,-2.7 L0,0 Z" fill="#fff" stroke="none"/></g>
<rect x="1064.00" y="19.20" width="20.80" height="9.70" fill="#f0f0f0" rx="3.0" stroke="#fff" stroke-width="0.8" stroke-opacity="0.6"/>
<path d="M1086.40,22.0 a2.1,2.1 0 0 1 0,4.0 Z" fill="#fff" opacity="0.55"/>
<path d="M768.70,72.70 A8.0,8.0 0 0 1 784.70,72.70 L767.80,72.70" fill="none" stroke="#fff" stroke-width="2.0" stroke-linecap="butt"/>
<path d="M768.80,75.45 A8.0,8.0 0 0 0 784.60,75.45" fill="none" stroke="#fff" stroke-width="2.0"/>
<text x="791.00" y="79.30" font-size="16.8" fill="#fff" textLength="80.70" lengthAdjust="spacingAndGlyphs" stroke="#fff" stroke-width="0.55">ENPHASE</text>
<g transform="translate(1005.70,63.70)" fill="none" stroke="#fff" stroke-width="1.35"><path d="M5.6,8.4 H1 V18.5 H16.6 V8.4 H12"/><path d="M8.8,13.2 V1.2 M4.9,4.8 L8.8,0.9 L12.7,4.8"/></g>
<g transform="translate(1041.20,62.40) scale(0.885)" fill="none" stroke="#fff" stroke-width="1.45" stroke-linejoin="round"><path d="M22 16.92v3a2 2 0 0 1-2.18 2 19.79 19.79 0 0 1-8.63-3.07 19.5 19.5 0 0 1-6-6 19.79 19.79 0 0 1-3.07-8.67A2 2 0 0 1 4.11 2h3a2 2 0 0 1 2 1.72 12.84 12.84 0 0 0 .7 2.81 2 2 0 0 1-.45 2.11L8.09 9.91a16 16 0 0 0 6 6l1.27-1.27a2 2 0 0 1 2.11-.45 12.84 12.84 0 0 0 2.81.7A2 2 0 0 1 22 16.92z"/></g>
<g transform="translate(1079.40,64.10)"><path d="M0.7,0.7 H18 V15.6 H4.6 L0.8,18.6 Z" fill="none" stroke="#fff" stroke-width="1.3" stroke-linejoin="miter"/>
<text x="9.5" y="12.3" font-size="10.5" fill="#fff" text-anchor="middle">?</text></g>
<text x="778.30" y="129.70" font-size="10.6" fill="#3f4347" font-weight="bold" textLength="18.00" lengthAdjust="spacingAndGlyphs">DAY</text>
<text x="821.90" y="129.70" font-size="10.6" fill="#3f4347" font-weight="bold" textLength="26.80" lengthAdjust="spacingAndGlyphs">WEEK</text>
<rect x="861.50" y="114.20" width="57.60" height="22.10" fill="#17a7d4" rx="11.05"/>
<text x="874.30" y="129.70" font-size="10.6" fill="#fff" font-weight="bold" textLength="32.00" lengthAdjust="spacingAndGlyphs">MONTH</text>
<text x="932.00" y="129.70" font-size="10.6" fill="#3f4347" font-weight="bold" textLength="23.60" lengthAdjust="spacingAndGlyphs">YEAR</text>
<text x="981.30" y="129.70" font-size="10.6" fill="#3f4347" font-weight="bold" textLength="41.40" lengthAdjust="spacingAndGlyphs">LIFETIME</text>
<text x="1048.40" y="129.70" font-size="10.6" fill="#3f4347" font-weight="bold" textLength="36.60" lengthAdjust="spacingAndGlyphs">CUSTOM</text>
<path d="M772.50,163.30 L766.30,169.50 L772.50,175.70" fill="none" stroke="#bdbfc4" stroke-width="1.3"/>
<g transform="translate(887.40,162.60)" fill="none" stroke="#5a5e63" stroke-width="1.2"><rect x="0.6" y="2.1" width="12.8" height="11" rx="1.2"/><rect x="0.6" y="2.1" width="12.8" height="3.2" fill="#5a5e63" fill-opacity="0.3" stroke="none"/><path d="M0.6,5.4 H13.4 M3.9,0 V3.2 M10.1,0 V3.2"/></g>
<text x="910.80" y="174.40" font-size="10.9" fill="#4d5156" font-weight="bold" textLength="36.80" lengthAdjust="spacingAndGlyphs">AUGUST</text>
<text x="952.00" y="174.40" font-size="10.9" fill="#4d5156" font-weight="bold" textLength="24.40" lengthAdjust="spacingAndGlyphs">2025</text>
<path d="M1090.90,163.30 L1097.10,169.50 L1090.90,175.70" fill="none" stroke="#bdbfc4" stroke-width="1.3"/>
<circle cx="782.50" cy="221.80" r="17.00" fill="none" stroke="#2b9dbe" stroke-width="1.25"/>
<circle cx="782.50" cy="221.80" r="4.60" fill="none" stroke="#2b9dbe" stroke-width="1.15"/>
<line x1="790.00" y1="221.80" x2="792.40" y2="221.80" stroke="#2b9dbe" stroke-width="1.2" stroke-linecap="round"/>
<line x1="787.80" y1="227.10" x2="789.50" y2="228.80" stroke="#2b9dbe" stroke-width="1.2" stroke-linecap="round"/>
<line x1="782.50" y1="229.30" x2="782.50" y2="231.70" stroke="#2b9dbe" stroke-width="1.2" stroke-linecap="round"/>
<line x1="777.20" y1="227.10" x2="775.50" y2="228.80" stroke="#2b9dbe" stroke-width="1.2" stroke-linecap="round"/>
<line x1="775.00" y1="221.80" x2="772.60" y2="221.80" stroke="#2b9dbe" stroke-width="1.2" stroke-linecap="round"/>
<line x1="777.20" y1="216.50" x2="775.50" y2="214.80" stroke="#2b9dbe" stroke-width="1.2" stroke-linecap="round"/>
<line x1="782.50" y1="214.30" x2="782.50" y2="211.90" stroke="#2b9dbe" stroke-width="1.2" stroke-linecap="round"/>
<line x1="787.80" y1="216.50" x2="789.50" y2="214.80" stroke="#2b9dbe" stroke-width="1.2" stroke-linecap="round"/>
<text x="808.80" y="219.90" font-size="13.5" fill="#4b4b4b" textLength="117.30" lengthAdjust="spacingAndGlyphs" stroke="#4b4b4b" stroke-width="0.45">Energy Produced</text>
<text x="808.70" y="236.00" font-size="11.0" fill="#787878" textLength="90.20" lengthAdjust="spacingAndGlyphs" stroke="#787878" stroke-width="0.15">Updated 6 hrs ago</text>
<rect x="767.20" y="254.20" width="329.70" height="73.30" fill="none" rx="1.8" stroke="#bfc2c5" stroke-width="1.1"/>
<text x="781.70" y="288.70" font-size="14.3" fill="#1c96c3" font-weight="bold" textLength="14.20" lengthAdjust="spacingAndGlyphs">1.1</text>
<text x="800.00" y="288.70" font-size="11.2" fill="#1c96c3" textLength="25.20" lengthAdjust="spacingAndGlyphs" stroke="#1c96c3" stroke-width="0.25">MWh</text>
<text x="781.90" y="300.60" font-size="10.4" fill="#444444" textLength="62.90" lengthAdjust="spacingAndGlyphs" stroke="#444444" stroke-width="0.2">August 2025</text>
<line x1="751.00" y1="346.80" x2="1113.00" y2="346.80" stroke="#cbcdd1" stroke-width="1.3" />
<text x="763.30" y="374.30" font-size="9.6" fill="#55595d" textLength="19.20" lengthAdjust="spacingAndGlyphs">kWh</text>
<circle cx="1085.00" cy="370.50" r="13.60" fill="#eeeeee" stroke="#bcbcbc" stroke-width="1.0"/>
<line x1="1082.00" y1="373.50" x2="1088.00" y2="367.50" stroke="#85888d" stroke-width="1.3" />
<path d="M1090.10,365.40 l-4.3,0.5 l3.8,3.8 Z M1079.90,375.60 l4.3,-0.5 l-3.8,-3.8 Z" fill="#85888d"/>
<line x1="792.70" y1="394.30" x2="792.70" y2="602.00" stroke="#b9bcc0" stroke-width="1.0" />
<line x1="792.20" y1="602.00" x2="1099.20" y2="602.00" stroke="#b9bcc0" stroke-width="1.0" />
<text x="780.00" y="604.80" font-size="9.2" fill="#8b9095" text-anchor="end">0</text>
<text x="780.00" y="575.89" font-size="9.2" fill="#8b9095" text-anchor="end">20</text>
<text x="780.00" y="546.97" font-size="9.2" fill="#8b9095" text-anchor="end">40</text>
<text x="780.00" y="518.06" font-size="9.2" fill="#8b9095" text-anchor="end">60</text>
<text x="780.00" y="489.14" font-size="9.2" fill="#8b9095" text-anchor="end">80</text>
<text x="780.00" y="460.23" font-size="9.2" fill="#8b9095" text-anchor="end">100</text>
<text x="780.00" y="431.32" font-size="9.2" fill="#8b9095" text-anchor="end">120</text>
<text x="780.00" y="402.40" font-size="9.2" fill="#8b9095" text-anchor="end">140</text>
<rect x="972.24" y="600.41" width="6.60" height="1.09" fill="#3bb1d0"/>
<rect x="982.12" y="557.47" width="6.60" height="44.03" fill="#3bb1d0"/>
<rect x="992.00" y="506.15" width="6.60" height="95.35" fill="#3bb1d0"/>
<rect x="1001.88" y="397.00" width="6.60" height="204.50" fill="#3bb1d0"/>
<rect x="1011.76" y="394.25" width="6.60" height="207.25" fill="#3bb1d0"/>
<rect x="1021.64" y="456.71" width="6.60" height="144.79" fill="#3bb1d0"/>
<rect x="1031.52" y="432.42" width="6.60" height="169.08" fill="#3bb1d0"/>
<rect x="1041.40" y="439.36" width="6.60" height="162.14" fill="#3bb1d0"/>
<rect x="1051.28" y="413.48" width="6.60" height="188.02" fill="#3bb1d0"/>
<rect x="1061.16" y="469.00" width="6.60" height="132.50" fill="#3bb1d0"/>
<rect x="1071.04" y="495.45" width="6.60" height="106.05" fill="#3bb1d0"/>
<rect x="1080.92" y="400.90" width="6.60" height="200.60" fill="#3bb1d0"/>
<text x="797.70" y="621.70" font-size="9.2" fill="#8b9095" text-anchor="middle">1</text>
<text x="817.46" y="621.70" font-size="9.2" fill="#8b9095" text-anchor="middle">3</text>
<text x="837.22" y="621.70" font-size="9.2" fill="#8b9095" text-anchor="middle">5</text>
<text x="856.98" y="621.70" font-size="9.2" fill="#8b9095" text-anchor="middle">7</text>
<text x="876.74" y="621.70" font-size="9.2" fill="#8b9095" text-anchor="middle">9</text>
<text x="896.50" y="621.70" font-size="9.2" fill="#8b9095" text-anchor="middle">11</text>
<text x="916.26" y="621.70" font-size="9.2" fill="#8b9095" text-anchor="middle">13</text>
<text x="936.02" y="621.70" font-size="9.2" fill="#8b9095" text-anchor="middle">15</text>
<text x="955.78" y="621.70" font-size="9.2" fill="#8b9095" text-anchor="middle">17</text>
<text x="975.54" y="621.70" font-size="9.2" fill="#8b9095" text-anchor="middle">19</text>
<text x="995.30" y="621.70" font-size="9.2" fill="#8b9095" text-anchor="middle">21</text>
<text x="1015.06" y="621.70" font-size="9.2" fill="#8b9095" text-anchor="middle">23</text>
<text x="1034.82" y="621.70" font-size="9.2" fill="#8b9095" text-anchor="middle">25</text>
<text x="1054.58" y="621.70" font-size="9.2" fill="#8b9095" text-anchor="middle">27</text>
<text x="1074.34" y="621.70" font-size="9.2" fill="#8b9095" text-anchor="middle">29</text>
<text x="1094.10" y="621.70" font-size="9.2" fill="#8b9095" text-anchor="middle">31</text>
<rect x="916.00" y="642.40" width="33.50" height="12.20" fill="#c9c9c9" rx="6.1"/>
<circle cx="940.90" cy="648.50" r="9.40" fill="#189fd2"/>
<text x="900.10" y="678.30" font-size="11.4" fill="#424242" textLength="62.90" lengthAdjust="spacingAndGlyphs" stroke="#424242" stroke-width="0.2">August 2025</text>
<rect x="751.00" y="713.00" width="362.00" height="71.00" fill="#e5e5e5"/>
<line x1="751.00" y1="713.00" x2="1113.00" y2="713.00" stroke="#d3d5da" stroke-width="1.6" />
<rect x="787.80" y="731.80" width="8.60" height="8.30" fill="#b3b3b3"/>
<rect x="787.80" y="741.80" width="8.60" height="8.30" fill="#b3b3b3"/>
<rect x="798.30" y="731.80" width="8.60" height="8.30" fill="#b3b3b3"/>
<rect x="798.30" y="741.80" width="8.60" height="8.30" fill="#b3b3b3"/>
<text x="779.10" y="766.90" font-size="11.0" fill="#8e8e8e" textLength="35.90" lengthAdjust="spacingAndGlyphs" stroke="#8e8e8e" stroke-width="0.5">STATUS</text>
<rect x="868.10" y="738.90" width="5.50" height="12.00" fill="#1b9ec9"/>
<rect x="875.60" y="734.70" width="5.50" height="16.20" fill="#1b9ec9"/>
<rect x="883.00" y="731.10" width="5.50" height="19.80" fill="#1b9ec9"/>
<text x="859.40" y="766.90" font-size="11.0" fill="#1f9bc4" textLength="37.90" lengthAdjust="spacingAndGlyphs" stroke="#1f9bc4" stroke-width="0.5">ENERGY</text>
<rect x="-4.3" y="-1.95" width="8.6" height="3.9" fill="#b3b3b3" transform="translate(964.60,733.00) rotate(-41)"/>
<rect x="-4.3" y="-1.95" width="8.6" height="3.9" fill="#b3b3b3" transform="translate(972.60,733.20) rotate(-41)"/>
<rect x="-4.3" y="-1.95" width="8.6" height="3.9" fill="#b3b3b3" transform="translate(956.60,740.90) rotate(-41)"/>
<rect x="-4.3" y="-1.95" width="8.6" height="3.9" fill="#b3b3b3" transform="translate(964.60,741.00) rotate(-41)"/>
<rect x="-4.3" y="-1.95" width="8.6" height="3.9" fill="#b3b3b3" transform="translate(972.60,741.10) rotate(-41)"/>
<rect x="-4.3" y="-1.95" width="8.6" height="3.9" fill="#b3b3b3" transform="translate(956.70,748.80) rotate(-41)"/>
<rect x="-4.3" y="-1.95" width="8.6" height="3.9" fill="#b3b3b3" transform="translate(964.80,749.00) rotate(-41)"/>
<text x="947.50" y="766.90" font-size="11.0" fill="#8e8e8e" textLength="31.40" lengthAdjust="spacingAndGlyphs" stroke="#8e8e8e" stroke-width="0.5">ARRAY</text>
<rect x="1046.90" y="734.00" width="13.90" height="3.20" fill="#b3b3b3"/>
<rect x="1046.90" y="740.50" width="18.10" height="3.20" fill="#b3b3b3"/>
<rect x="1046.90" y="747.00" width="18.10" height="3.20" fill="#b3b3b3"/>
<circle cx="1067.30" cy="735.30" r="5.20" fill="#ea4a4e"/>
<text x="1043.00" y="766.90" font-size="11.0" fill="#8e8e8e" textLength="26.60" lengthAdjust="spacingAndGlyphs" stroke="#8e8e8e" stroke-width="0.5">MENU</text>
<rect x="867.90" y="771.60" width="128.50" height="5.30" fill="#000" rx="2.65"/>
</g>
<!--P4-->
<path d="M1113,113.2 V3.5 a3.5,3.5 0 0 1 3.5,-3.5 H1471.1 a3.5,3.5 0 0 1 3.5,3.5 V113.2 Z" fill="#00b4de"/>
<rect x="1113.00" y="113.20" width="361.60" height="44.40" fill="#f6f7fb"/>
<rect x="1113.00" y="158.00" width="361.60" height="42.00" fill="#f6f7fb"/>
<line x1="1113.00" y1="157.80" x2="1474.60" y2="157.80" stroke="#e3e4ea" stroke-width="1.2" />
<rect x="1113.00" y="199.80" width="361.60" height="503.00" fill="url(#p4bg)"/>
<text x="1150.90" y="32.60" font-size="15.2" fill="#fff" textLength="39.40" lengthAdjust="spacingAndGlyphs" stroke="#fff" stroke-width="0.3">12:39</text>
<g transform="translate(1194.70,20.80)"><path d="M6.2,1.2 C3.4,1.2 2.4,3.6 2.4,5.8 C2.4,8 1.6,8.9 0.9,9.8 H11.5 C10.8,8.9 10,8 10,5.8 C10,3.6 9,1.2 6.2,1.2 Z" fill="#fff"/><path d="M4.6,10.9 a1.7,1.7 0 0 0 3.3,0 Z" fill="#fff"/><path d="M0.4,0.3 L12.3,12.6" stroke="#00b4de" stroke-width="2.6"/><path d="M0.8,0.2 L12.4,12.2" stroke="#fff" stroke-width="1.1"/></g>
<rect x="1372.40" y="28.00" width="3.40" height="4.20" fill="#fff" rx="0.9"/>
<rect x="1377.40" y="26.00" width="3.00" height="6.20" fill="#fff" rx="0.8" opacity="0.4"/>
<rect x="1382.20" y="23.50" width="3.00" height="8.70" fill="#fff" rx="0.8" opacity="0.4"/>
<rect x="1387.00" y="21.40" width="3.00" height="10.80" fill="#fff" rx="0.8" opacity="0.4"/>
<g transform="translate(1404.60,32.00) scale(1.0)" fill="none" stroke="#fff" stroke-linecap="butt"><path d="M-7.61,-7.09 A10.4,10.4 0 0 1 7.61,-7.09" stroke-width="2.3"/><path d="M-4.75,-4.43 A6.5,6.5 0 0 1 4.75,-4.43" stroke-width="2.2"/><path d="M-2.6,-2.7 A3.7,3.7 0 0 1 2.6,-2.7 L0,0 Z" fill="#fff" stroke="none"/></g>
<rect x="1419.50" y="21.60" width="23.00" height="10.60" fill="none" rx="3.6" stroke="#fff" stroke-width="0.9" stroke-opacity="0.6"/>
<rect x="1421.30" y="23.30" width="14.40" height="7.30" fill="#fff" rx="2.3"/>
<path d="M1443.60,25.3 a1.7,1.7 0 0 1 0,3.2 Z" fill="#fff" opacity="0.6"/>
<path d="M1130.30,83.00 A8.0,8.0 0 0 1 1146.30,83.00 L1129.40,83.00" fill="none" stroke="#fff" stroke-width="2.0" stroke-linecap="butt"/>
<path d="M1130.40,85.75 A8.0,8.0 0 0 0 1146.20,85.75" fill="none" stroke="#fff" stroke-width="2.0"/>
<text x="1152.60" y="89.60" font-size="16.8" fill="#fff" textLength="80.70" lengthAdjust="spacingAndGlyphs" stroke="#fff" stroke-width="0.55">ENPHASE</text>
<g transform="translate(1368.30,73.70)" fill="none" stroke="#fff" stroke-width="1.35"><path d="M5.6,8.4 H1 V18.5 H16.6 V8.4 H12"/><path d="M8.8,13.2 V1.2 M4.9,4.8 L8.8,0.9 L12.7,4.8"/></g>
<g transform="translate(1403.80,72.40) scale(0.885)" fill="none" stroke="#fff" stroke-width="1.45" stroke-linejoin="round"><path d="M22 16.92v3a2 2 0 0 1-2.18 2 19.79 19.79 0 0 1-8.63-3.07 19.5 19.5 0 0 1-6-6 19.79 19.79 0 0 1-3.07-8.67A2 2 0 0 1 4.11 2h3a2 2 0 0 1 2 1.72 12.84 12.84 0 0 0 .7 2.81 2 2 0 0 1-.45 2.11L8.09 9.91a16 16 0 0 0 6 6l1.27-1.27a2 2 0 0 1 2.11-.45 12.84 12.84 0 0 0 2.81.7A2 2 0 0 1 22 16.92z"/></g>
<g transform="translate(1442.00,74.10)"><path d="M0.7,0.7 H18 V15.6 H4.6 L0.8,18.6 Z" fill="none" stroke="#fff" stroke-width="1.3" stroke-linejoin="miter"/>
<text x="9.5" y="12.3" font-size="10.5" fill="#fff" text-anchor="middle">?</text></g>
<rect x="1127.50" y="124.20" width="72.60" height="22.10" fill="#05b2dd" rx="11.05"/>
<text x="1154.90" y="139.70" font-size="10.6" fill="#fff" font-weight="bold" textLength="17.00" lengthAdjust="spacingAndGlyphs">DAY</text>
<text x="1227.10" y="139.70" font-size="10.6" fill="#3f4347" font-weight="bold" textLength="31.20" lengthAdjust="spacingAndGlyphs">MONTH</text>
<text x="1313.00" y="139.70" font-size="10.6" fill="#3f4347" font-weight="bold" textLength="23.50" lengthAdjust="spacingAndGlyphs">YEAR</text>
<text x="1391.40" y="139.70" font-size="10.6" fill="#3f4347" font-weight="bold" textLength="40.90" lengthAdjust="spacingAndGlyphs">LIFETIME</text>
<path d="M1134.10,172.90 L1128.00,179.00 L1134.10,185.10" fill="none" stroke="#4a4e53" stroke-width="1.3"/>
<g transform="translate(1229.90,172.00)" fill="none" stroke="#55595e" stroke-width="1.2"><rect x="0.6" y="2.1" width="12.8" height="11" rx="1.2"/><rect x="0.6" y="2.1" width="12.8" height="3.2" fill="#55595e" fill-opacity="0.3" stroke="none"/><path d="M0.6,5.4 H13.4 M3.9,0 V3.2 M10.1,0 V3.2"/></g>
<text x="1253.50" y="184.00" font-size="10.9" fill="#45494e" font-weight="bold" textLength="56.00" lengthAdjust="spacingAndGlyphs">SEPTEMBER</text>
<text x="1314.10" y="184.00" font-size="10.9" fill="#45494e" font-weight="bold" textLength="14.00" lengthAdjust="spacingAndGlyphs">15,</text>
<text x="1333.70" y="184.00" font-size="10.9" fill="#45494e" font-weight="bold" textLength="23.40" lengthAdjust="spacingAndGlyphs">2025</text>
<path d="M1453.80,172.90 L1459.90,179.00 L1453.80,185.10" fill="none" stroke="#cfd0d5" stroke-width="1.3"/>
<rect x="1410.20" y="223.60" width="48.80" height="95.40" fill="#9aa0aa" rx="3.5" opacity="0.28" filter="url(#blur1)"/>
<rect x="1410.20" y="222.70" width="48.80" height="95.40" fill="#fefefe" rx="3.5" stroke="#c4c6cb" stroke-width="1.0"/>
<line x1="1410.70" y1="269.80" x2="1458.50" y2="269.80" stroke="#d0d2d6" stroke-width="1.0" />
<line x1="1428.20" y1="246.30" x2="1440.60" y2="246.30" stroke="#6c6e73" stroke-width="1.6" />
<line x1="1434.40" y1="240.10" x2="1434.40" y2="252.50" stroke="#6c6e73" stroke-width="1.6" />
<line x1="1428.00" y1="293.10" x2="1440.80" y2="293.10" stroke="#6c6e73" stroke-width="1.6" />
<text x="1132.30" y="398.00" font-size="9.6" fill="#a9b2ae" textLength="10.20" lengthAdjust="spacingAndGlyphs">R1</text>
<defs><g id="mb"><rect x="0" y="0" width="14.4" height="30.9" fill="#0c1829" stroke="#596273" stroke-width="0.5" rx="0.5"/><rect x="3.1" y="3.5" width="8.2" height="8.6" fill="none" stroke="#3c495b" stroke-width="0.5"/><text x="7.2" y="7.3" font-size="3.3" font-weight="bold" fill="#b9c0c9" text-anchor="middle" textLength="3.8" lengthAdjust="spacingAndGlyphs">51</text><text x="7.2" y="10.9" font-size="3.3" font-weight="bold" fill="#c9cfd6" text-anchor="middle" textLength="4.6" lengthAdjust="spacingAndGlyphs">Wh</text><rect x="3.2" y="21.9" width="1.1" height="1.5" fill="#2b3a50"/><rect x="6.7" y="21.9" width="1.1" height="1.5" fill="#2b3a50"/><rect x="10.2" y="21.9" width="1.1" height="1.5" fill="#2b3a50"/><text x="7.2" y="29.0" font-size="3.6" font-weight="bold" fill="#e3e7ec" text-anchor="middle" textLength="11.6" lengthAdjust="spacingAndGlyphs">IQ8P-3P</text></g><g id="mp"><rect x="0.9" y="13.5" width="14.4" height="4.8" rx="2.4" fill="#f7f8f9"/><circle cx="2.7" cy="15.9" r="0.75" fill="#2a2e35"/><text x="3.9" y="17.0" font-size="3.1" fill="#30343b" textLength="7.6" lengthAdjust="spacingAndGlyphs">4823129</text></g></defs>
<use href="#mb" transform="translate(1131.60,404.50)"/>
<use href="#mb" transform="translate(1147.53,404.50)"/>
<use href="#mb" transform="translate(1163.46,404.50)"/>
<use href="#mb" transform="translate(1179.39,404.50)"/>
<use href="#mb" transform="translate(1195.32,404.50)"/>
<use href="#mb" transform="translate(1211.25,404.50)"/>
<use href="#mb" transform="translate(1227.18,404.50)"/>
<use href="#mb" transform="translate(1243.11,404.50)"/>
<use href="#mb" transform="translate(1131.60,436.30)"/>
<use href="#mb" transform="translate(1163.46,436.30)"/>
<use href="#mb" transform="translate(1179.39,436.30)"/>
<use href="#mb" transform="translate(1131.60,468.10)"/>
<use href="#mb" transform="translate(1147.53,468.10)"/>
<use href="#mb" transform="translate(1163.46,468.10)"/>
<use href="#mb" transform="translate(1179.39,468.10)"/>
<use href="#mb" transform="translate(1195.32,468.10)"/>
<use href="#mb" transform="translate(1211.25,468.10)"/>
<use href="#mb" transform="translate(1131.60,499.90)"/>
<use href="#mb" transform="translate(1163.46,499.90)"/>
<use href="#mb" transform="translate(1179.39,499.90)"/>
<use href="#mb" transform="translate(1195.32,499.90)"/>
<use href="#mb" transform="translate(1211.25,499.90)"/>
<use href="#mb" transform="translate(1227.18,499.90)"/>
<use href="#mb" transform="translate(1243.11,499.90)"/>
<use href="#mb" transform="translate(1259.04,499.90)"/>
<use href="#mb" transform="translate(1274.97,499.90)"/>
<use href="#mb" transform="translate(1131.60,531.70)"/>
<use href="#mb" transform="translate(1163.46,531.70)"/>
<use href="#mb" transform="translate(1179.39,531.70)"/>
<use href="#mb" transform="translate(1195.32,531.70)"/>
<use href="#mb" transform="translate(1211.25,531.70)"/>
<use href="#mb" transform="translate(1227.18,531.70)"/>
<use href="#mb" transform="translate(1243.11,531.70)"/>
<use href="#mb" transform="translate(1259.04,531.70)"/>
<use href="#mb" transform="translate(1274.97,531.70)"/>
<use href="#mb" transform="translate(1335.40,465.60) scale(1.0347,1.0129)"/>
<use href="#mb" transform="translate(1351.50,465.60) scale(1.0347,1.0129)"/>
<use href="#mb" transform="translate(1367.60,465.60) scale(1.0347,1.0129)"/>
<use href="#mb" transform="translate(1335.40,497.60) scale(1.0347,1.0129)"/>
<use href="#mb" transform="translate(1351.50,497.60) scale(1.0347,1.0129)"/>
<use href="#mb" transform="translate(1367.60,497.60) scale(1.0347,1.0129)"/>
<use href="#mb" transform="translate(1409.20,465.60) scale(1.0347,1.0129)"/>
<use href="#mb" transform="translate(1425.30,465.60) scale(1.0347,1.0129)"/>
<use href="#mb" transform="translate(1441.40,465.60) scale(1.0347,1.0129)"/>
<use href="#mb" transform="translate(1409.20,497.60) scale(1.0347,1.0129)"/>
<use href="#mb" transform="translate(1425.30,497.60) scale(1.0347,1.0129)"/>
<use href="#mb" transform="translate(1441.40,497.60) scale(1.0347,1.0129)"/>
<use href="#mp" transform="translate(1131.60,404.50)"/>
<use href="#mp" transform="translate(1147.53,404.50)"/>
<use href="#mp" transform="translate(1163.46,404.50)"/>
<use href="#mp" transform="translate(1179.39,404.50)"/>
<use href="#mp" transform="translate(1195.32,404.50)"/>
<use href="#mp" transform="translate(1211.25,404.50)"/>
<use href="#mp" transform="translate(1227.18,404.50)"/>
<use href="#mp" transform="translate(1243.11,404.50)"/>
<use href="#mp" transform="translate(1131.60,436.30)"/>
<use href="#mp" transform="translate(1163.46,436.30)"/>
<use href="#mp" transform="translate(1179.39,436.30)"/>
<use href="#mp" transform="translate(1131.60,468.10)"/>
<use href="#mp" transform="translate(1147.53,468.10)"/>
<use href="#mp" transform="translate(1163.46,468.10)"/>
<use href="#mp" transform="translate(1179.39,468.10)"/>
<use href="#mp" transform="translate(1195.32,468.10)"/>
<use href="#mp" transform="translate(1211.25,468.10)"/>
<use href="#mp" transform="translate(1131.60,499.90)"/>
<use href="#mp" transform="translate(1163.46,499.90)"/>
<use href="#mp" transform="translate(1179.39,499.90)"/>
<use href="#mp" transform="translate(1195.32,499.90)"/>
<use href="#mp" transform="translate(1211.25,499.90)"/>
<use href="#mp" transform="translate(1227.18,499.90)"/>
<use href="#mp" transform="translate(1243.11,499.90)"/>
<use href="#mp" transform="translate(1259.04,499.90)"/>
<use href="#mp" transform="translate(1274.97,499.90)"/>
<use href="#mp" transform="translate(1131.60,531.70)"/>
<use href="#mp" transform="translate(1163.46,531.70)"/>
<use href="#mp" transform="translate(1179.39,531.70)"/>
<use href="#mp" transform="translate(1195.32,531.70)"/>
<use href="#mp" transform="translate(1211.25,531.70)"/>
<use href="#mp" transform="translate(1227.18,531.70)"/>
<use href="#mp" transform="translate(1243.11,531.70)"/>
<use href="#mp" transform="translate(1259.04,531.70)"/>
<use href="#mp" transform="translate(1274.97,531.70)"/>
<use href="#mp" transform="translate(1335.40,465.60) scale(1.0347,1.0129)"/>
<use href="#mp" transform="translate(1351.50,465.60) scale(1.0347,1.0129)"/>
<use href="#mp" transform="translate(1367.60,465.60) scale(1.0347,1.0129)"/>
<use href="#mp" transform="translate(1335.40,497.60) scale(1.0347,1.0129)"/>
<use href="#mp" transform="translate(1351.50,497.60) scale(1.0347,1.0129)"/>
<use href="#mp" transform="translate(1367.60,497.60) scale(1.0347,1.0129)"/>
<use href="#mp" transform="translate(1409.20,465.60) scale(1.0347,1.0129)"/>
<use href="#mp" transform="translate(1425.30,465.60) scale(1.0347,1.0129)"/>
<use href="#mp" transform="translate(1441.40,465.60) scale(1.0347,1.0129)"/>
<use href="#mp" transform="translate(1409.20,497.60) scale(1.0347,1.0129)"/>
<use href="#mp" transform="translate(1425.30,497.60) scale(1.0347,1.0129)"/>
<use href="#mp" transform="translate(1441.40,497.60) scale(1.0347,1.0129)"/>
<rect x="1409.80" y="607.50" width="16.80" height="5.00" fill="#f4da72" rx="2.5" filter="url(#blur1)"/>
<text x="1129.90" y="666.70" font-size="11.6" fill="#3b3b3b" textLength="53.60" lengthAdjust="spacingAndGlyphs">Production</text>
<circle cx="1193.10" cy="663.20" r="5.20" fill="#adb1b7"/>
<rect x="1192.50" y="662.40" width="1.25" height="3.70" fill="#fff"/>
<rect x="1192.50" y="660.20" width="1.25" height="1.30" fill="#fff"/>
<text x="1129.90" y="688.00" font-size="15.0" fill="#232323" textLength="29.30" lengthAdjust="spacingAndGlyphs" stroke="#232323" stroke-width="0.2">4.56</text>
<text x="1164.80" y="688.00" font-size="11.6" fill="#3b3b3b" textLength="21.90" lengthAdjust="spacingAndGlyphs">kWh</text>
<text x="1289.90" y="666.70" font-size="11.6" fill="#3b3b3b" textLength="167.40" lengthAdjust="spacingAndGlyphs">Community Church of Douglaston</text>
<text x="1370.70" y="683.50" font-size="11.6" fill="#3b3b3b" textLength="36.80" lengthAdjust="spacingAndGlyphs">Site ID :</text>
<text x="1416.80" y="683.50" font-size="11.6" fill="#3b3b3b" textLength="40.50" lengthAdjust="spacingAndGlyphs">5886281</text>
<rect x="1113.00" y="702.70" width="361.60" height="10.80" fill="url(#gbar)"/>
<rect x="1113.00" y="713.40" width="361.60" height="70.60" fill="#ffffff"/>
<rect x="1149.90" y="732.50" width="8.60" height="8.30" fill="#c4c4c4"/>
<rect x="1149.90" y="742.50" width="8.60" height="8.30" fill="#c4c4c4"/>
<rect x="1160.40" y="732.50" width="8.60" height="8.30" fill="#c4c4c4"/>
<rect x="1160.40" y="742.50" width="8.60" height="8.30" fill="#c4c4c4"/>
<text x="1141.10" y="766.90" font-size="11.0" fill="#8e8e8e" textLength="35.90" lengthAdjust="spacingAndGlyphs" stroke="#8e8e8e" stroke-width="0.5">STATUS</text>
<rect x="1231.20" y="737.30" width="5.00" height="12.90" fill="#c4c4c4"/>
<rect x="1238.40" y="733.30" width="5.10" height="16.90" fill="#c4c4c4"/>
<rect x="1245.90" y="730.70" width="5.00" height="19.50" fill="#c4c4c4"/>
<text x="1221.40" y="766.90" font-size="11.0" fill="#8e8e8e" textLength="37.90" lengthAdjust="spacingAndGlyphs" stroke="#8e8e8e" stroke-width="0.5">ENERGY</text>
<rect x="-4.3" y="-1.95" width="8.6" height="3.9" fill="#12a9dc" transform="translate(1326.60,733.00) rotate(-41)"/>
<rect x="-4.3" y="-1.95" width="8.6" height="3.9" fill="#12a9dc" transform="translate(1334.60,733.20) rotate(-41)"/>
<rect x="-4.3" y="-1.95" width="8.6" height="3.9" fill="#12a9dc" transform="translate(1318.60,740.90) rotate(-41)"/>
<rect x="-4.3" y="-1.95" width="8.6" height="3.9" fill="#12a9dc" transform="translate(1326.60,741.00) rotate(-41)"/>
<rect x="-4.3" y="-1.95" width="8.6" height="3.9" fill="#12a9dc" transform="translate(1334.60,741.10) rotate(-41)"/>
<rect x="-4.3" y="-1.95" width="8.6" height="3.9" fill="#12a9dc" transform="translate(1318.70,748.80) rotate(-41)"/>
<rect x="-4.3" y="-1.95" width="8.6" height="3.9" fill="#12a9dc" transform="translate(1326.80,749.00) rotate(-41)"/>
<text x="1309.50" y="766.90" font-size="11.0" fill="#16a7dc" textLength="31.40" lengthAdjust="spacingAndGlyphs" stroke="#16a7dc" stroke-width="0.5">ARRAY</text>
<rect x="1409.30" y="735.10" width="18.20" height="2.80" fill="#c4c4c4"/>
<rect x="1409.30" y="740.80" width="18.20" height="2.80" fill="#c4c4c4"/>
<rect x="1409.30" y="746.60" width="18.20" height="2.80" fill="#c4c4c4"/>
<text x="1405.00" y="766.90" font-size="11.0" fill="#8e8e8e" textLength="26.60" lengthAdjust="spacingAndGlyphs" stroke="#8e8e8e" stroke-width="0.5">MENU</text>
<rect x="1229.90" y="771.60" width="128.50" height="5.30" fill="#000" rx="2.65"/>
</svg>
</body></html>
